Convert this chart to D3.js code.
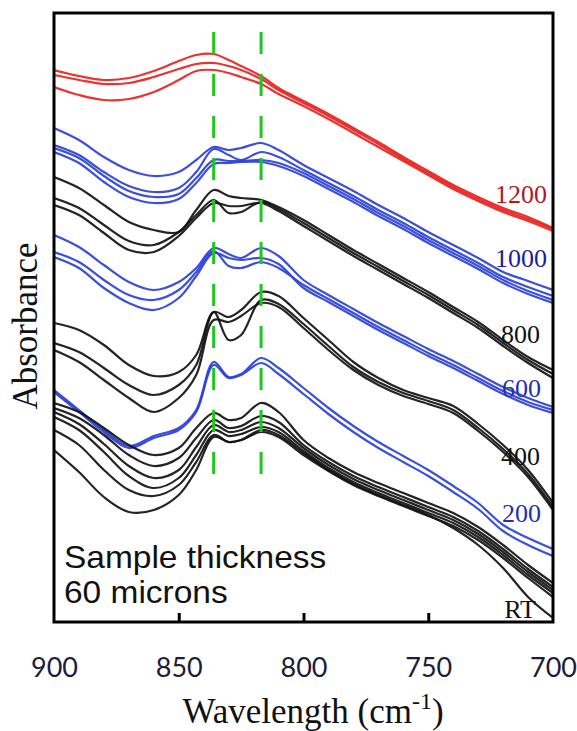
<!DOCTYPE html>
<html>
<head>
<meta charset="utf-8">
<script src="https://cdn.jsdelivr.net/npm/d3@7"></script>
<style>
html,body{margin:0;padding:0;background:#fff;}
svg{display:block;}
</style>
</head>
<body>
<div id="chart"></div>
<script>
// Wavenumber sample points (cm^-1)
const wavenumbers = [900,890,880,870,860,850,843,836,830,825,817,810,800,790,780,770,760,750,740,730,720,710,700];

// Absorbance (arbitrary units x1000, stacked/offset spectra)
const spectra1200 = [
  [552,546,542,544,551,561,567,568,562,556,546,534,521,508,494,480,465,451,437,425,414,405,394],
  [547,542,538,539,545,553,558,559,556,552,543,532,519,506,492,478,463,449,435,423,412,403,393],
  [535,527,522,523,530,542,551,552,549,545,538,528,516,503,489,475,461,447,433,421,410,401,391]
];
const spectra1000 = [
  [494,482,465,452,446,450,462,475,472,474,479,472,457,444,431,417,404,390,377,364,350,341,332],
  [477,467,450,436,430,434,450,473,467,462,470,465,452,439,426,412,399,385,372,359,345,335,326],
  [474,464,446,431,425,428,444,462,461,461,462,459,449,436,423,409,396,382,369,356,342,331,322],
  [470,459,440,425,419,423,439,458,459,460,460,456,446,433,420,406,393,379,366,353,339,328,319]
];
const spectra800 = [
  [445,434,417,400,392,390,412,432,426,424,422,415,402,387,372,358,344,330,315,300,282,265,252],
  [424,414,397,381,377,390,407,422,409,410,420,413,399,384,369,355,341,327,312,297,279,262,248],
  [417,407,389,372,370,386,404,419,416,416,419,411,396,381,366,352,338,324,309,294,276,259,244]
];
const spectra600 = [
  [387,375,357,340,332,340,354,374,368,364,374,366,342,327,313,299,286,273,261,248,235,224,215],
  [370,360,342,327,322,332,350,371,356,354,360,354,337,323,309,295,282,269,257,244,231,220,212],
  [365,354,334,319,312,324,346,369,364,362,364,358,334,320,306,292,279,266,254,241,228,217,209]
];
const spectra400 = [
  [299,292,277,257,246,250,267,310,305,312,330,326,304,282,260,244,232,224,216,198,177,152,119],
  [279,270,254,237,227,237,257,310,282,287,322,318,298,276,255,240,229,221,212,194,173,148,115],
  [272,260,242,224,210,224,247,302,300,306,319,315,294,272,252,237,226,218,209,191,170,145,112]
];
const spectra200 = [
  [232,212,192,176,186,194,212,260,245,248,264,254,234,214,196,180,166,152,136,119,97,84,73],
  [230,210,190,174,184,192,210,257,244,247,259,248,228,208,190,174,160,146,130,113,91,77,66]
];
const spectraRT = [
  [219,210,194,177,167,174,194,209,202,204,219,210,182,164,150,139,129,119,109,95,77,57,39],
  [214,204,187,167,156,164,184,202,194,196,206,200,177,160,146,135,125,115,105,91,73,53,35],
  [210,198,178,156,144,152,175,197,190,192,200,194,174,157,143,132,122,112,102,88,70,50,32],
  [205,192,170,146,134,144,167,192,186,188,195,190,171,154,140,129,119,109,99,85,67,47,29],
  [192,177,152,132,126,137,160,187,180,182,190,185,167,151,137,126,116,106,96,82,64,44,25],
  [172,150,125,110,112,127,152,185,180,182,192,187,169,152,138,127,117,107,94,77,54,25,4]
];

const groupNames = ["1200","1000","800","600","400","200","RT"];
const groupColors = ["#e8221e","#2b40d8","#111111","#2b40d8","#111111","#2b40d8","#111111"];
const labelColors = ["#b3161b","#1c1c9c","#111111","#2230b0","#111111","#2230b0","#111111"];
const markerWavenumbers = [836, 817];
const xTicks = [900, 850, 800, 750, 700];

// ---------- layout ----------
const W = 577, H = 731;
const plot = {left: 54, right: 553, top: 13, bottom: 622};
const labelPos = [
  {x: 547, y: 203}, {x: 547, y: 267}, {x: 540, y: 343}, {x: 541, y: 397},
  {x: 540, y: 465}, {x: 541, y: 522}, {x: 536, y: 618}
];

const svg = d3.select("#chart").append("svg").attr("width", W).attr("height", H);

const x = d3.scaleLinear().domain([900, 700]).range([plot.left, plot.right]);
const y = d3.scaleLinear().domain([0, 610]).range([plot.bottom, plot.top - 1]);

const groups = [spectra1200, spectra1000, spectra800, spectra600, spectra400, spectra200, spectraRT];

const line = d3.line()
  .x((d, i) => x(wavenumbers[i]))
  .y(d => y(d))
  .curve(d3.curveCatmullRom.alpha(0.5));

svg.append("clipPath").attr("id", "clip").append("rect")
  .attr("x", plot.left).attr("y", plot.top)
  .attr("width", plot.right - plot.left).attr("height", plot.bottom - plot.top);

const curvesG = svg.append("g").attr("clip-path", "url(#clip)");
const order = [1, 3, 5, 0, 2, 4, 6];
order.forEach(gi => {
  curvesG.append("g")
    .selectAll("path")
    .data(groups[gi])
    .join("path")
    .attr("d", d => line(d))
    .attr("fill", "none")
    .attr("stroke", groupColors[gi])
    .attr("stroke-width", 2.2)
    .attr("stroke-linejoin", "round")
    .attr("stroke-opacity", 0.92);
});

// green dashed marker lines
svg.append("g").selectAll("line")
  .data(markerWavenumbers)
  .join("line")
  .attr("x1", d => x(d)).attr("x2", d => x(d))
  .attr("y1", 32).attr("y2", 476)
  .attr("stroke", "#1fc61f")
  .attr("stroke-width", 3)
  .attr("stroke-dasharray", "22,20");

// group labels
svg.append("g").selectAll("text")
  .data(groupNames)
  .join("text")
  .attr("x", (d, i) => labelPos[i].x)
  .attr("y", (d, i) => labelPos[i].y)
  .attr("text-anchor", "end")
  .attr("font-family", "'Liberation Serif', 'Times New Roman', serif")
  .attr("font-size", 26)
  .attr("fill", (d, i) => labelColors[i])
  .text(d => d);

// annotation
const ann = svg.append("text")
  .attr("transform", "translate(64,0) scale(1.08,1)")
  .attr("font-family", "'Liberation Sans', Arial, sans-serif")
  .attr("font-size", 31)
  .attr("fill", "#111");
ann.append("tspan").attr("x", 0).attr("y", 568).text("Sample thickness");
ann.append("tspan").attr("x", 0).attr("y", 603).text("60 microns");

// frame
svg.append("rect")
  .attr("x", plot.left).attr("y", plot.top)
  .attr("width", plot.right - plot.left).attr("height", plot.bottom - plot.top)
  .attr("fill", "none").attr("stroke", "#000").attr("stroke-width", 3);

// x axis (ticks inward, labels below)
const xAxis = d3.axisBottom(x)
  .tickValues(xTicks)
  .tickSize(0)
  .tickPadding(0)
  .tickFormat(d3.format("d"));
const axG = svg.append("g").attr("transform", `translate(0,${plot.bottom})`).call(xAxis);
axG.select(".domain").remove();
axG.selectAll("text")
  .attr("y", 55)
  .attr("dy", 0)
  .attr("font-family", "Lato, 'Open Sans', sans-serif")
  .attr("font-size", 27)
  .attr("fill", "#1d1d3a");
axG.selectAll(".tick")
  .filter(d => d !== 900 && d !== 700)
  .append("line")
  .attr("y1", 0).attr("y2", -9)
  .attr("stroke", "#000").attr("stroke-width", 3);

// axis titles
const xt = svg.append("text")
  .attr("x", 313).attr("y", 723)
  .attr("text-anchor", "middle")
  .attr("font-family", "'Liberation Serif', 'Times New Roman', serif")
  .attr("font-size", 35)
  .attr("fill", "#111");
xt.append("tspan").text("Wavelength (cm");
xt.append("tspan").attr("font-size", 24).attr("dy", -14).text("-1");
xt.append("tspan").attr("dy", 14).text(")");

svg.append("text")
  .attr("transform", "translate(37,326) rotate(-90)")
  .attr("text-anchor", "middle")
  .attr("font-family", "'Liberation Serif', 'Times New Roman', serif")
  .attr("font-size", 35)
  .attr("fill", "#111")
  .text("Absorbance");
</script>
</body>
</html>
